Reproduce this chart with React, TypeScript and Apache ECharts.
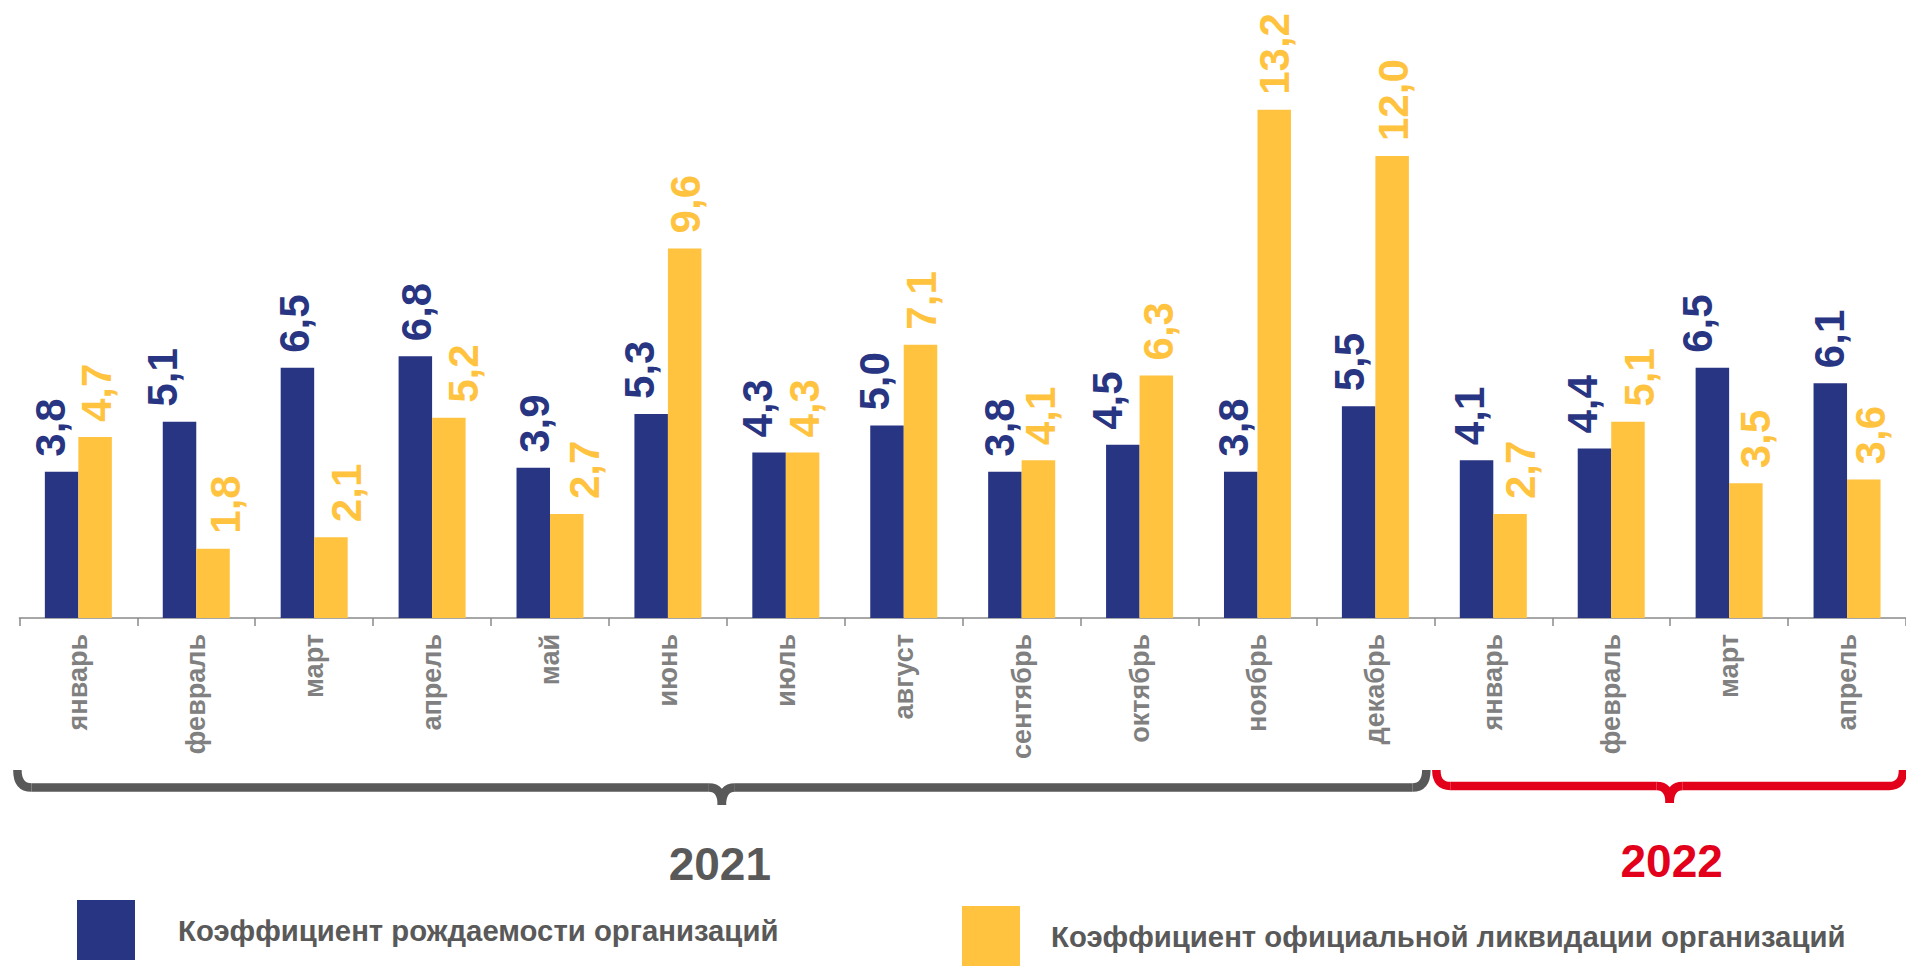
import React, { useEffect, useRef } from 'react';
import * as echarts from 'echarts';

const categories = [
  'январь', 'февраль', 'март', 'апрель', 'май', 'июнь', 'июль', 'август',
  'сентябрь', 'октябрь', 'ноябрь', 'декабрь', 'январь', 'февраль', 'март', 'апрель',
];
const birthRate = [3.8, 5.1, 6.5, 6.8, 3.9, 5.3, 4.3, 5.0, 3.8, 4.5, 3.8, 5.5, 4.1, 4.4, 6.5, 6.1];
const liquidationRate = [4.7, 1.8, 2.1, 5.2, 2.7, 9.6, 4.3, 7.1, 4.1, 6.3, 13.2, 12.0, 2.7, 5.1, 3.5, 3.6];
const years = ['2021', '2022'];
const monthsPerYear = [12, 4];
const seriesNames = [
  'Коэффициент рождаемости организаций',
  'Коэффициент официальной ликвидации организаций',
];

// label horizontal nudges (style only)
const birthLabelShift = [-11, -17, -3, 1, 1, -12, -12, -12, -5, -15, -7, -9, -7, -12, -15, -1];
const liqLabelShift = [1, 12, 16, 15, 18, 1, 2, 1, 2, 2, 0, 1, 10, 12, 10, 7];

const FONT = 'Arial, "Liberation Sans", sans-serif';
const BLUE = '#283582';
const YELLOW = '#FFC340';
const GRAY = '#595959';
const RED = '#E2001A';

const fmt = (v: number) => v.toFixed(1).replace('.', ',');

function barData(values: number[], shifts: number[]) {
  return values.map((v, i) => ({ value: v, label: { offset: [0, shifts[i]] } }));
}

function labelStyle(color: string) {
  return {
    show: true,
    position: 'top',
    rotate: 90,
    align: 'left',
    verticalAlign: 'middle',
    distance: 15,
    color,
    fontSize: 42,
    fontWeight: 'bold',
    fontFamily: FONT,
    formatter: (p: any) => fmt(p.value),
  };
}

function brace(x1: number, x2: number, color: string, yTop: number, yMid: number, yBot: number) {
  const r = 14;
  const r2 = 13;
  const xc = (x1 + x2) / 2;
  const style = { stroke: color, lineWidth: 8.5, fill: null, lineCap: 'butt' };
  return [
    { type: 'bezierCurve', silent: true, shape: { x1: x1, y1: yTop, cpx1: x1, cpy1: yMid, x2: x1 + r, y2: yMid }, style },
    { type: 'line', silent: true, shape: { x1: x1 + r, y1: yMid, x2: xc - r2, y2: yMid }, style },
    { type: 'bezierCurve', silent: true, shape: { x1: xc - r2, y1: yMid, cpx1: xc, cpy1: yMid, x2: xc, y2: yBot }, style },
    { type: 'bezierCurve', silent: true, shape: { x1: xc + r2, y1: yMid, cpx1: xc, cpy1: yMid, x2: xc, y2: yBot }, style },
    { type: 'line', silent: true, shape: { x1: xc + r2, y1: yMid, x2: x2 - r, y2: yMid }, style },
    { type: 'bezierCurve', silent: true, shape: { x1: x2 - r, y1: yMid, cpx1: x2, cpy1: yMid, x2: x2, y2: yTop }, style },
  ];
}

export default function App() {
  const ref = useRef<HTMLDivElement>(null);

  useEffect(() => {
    if (!ref.current) return;
    const chart = echarts.init(ref.current, undefined, { renderer: 'svg' });
    chart.setOption({
      animation: false,
      backgroundColor: '#ffffff',
      grid: { left: 19.4, top: 2, width: 1893.6, height: 616, containLabel: false },
      legend: [
        {
          data: [seriesNames[0]],
          left: 77,
          top: 900,
          padding: 0,
          icon: 'rect',
          itemWidth: 58,
          itemHeight: 60,
          selectedMode: false,
          textStyle: { fontSize: 29.3, fontWeight: 'bold', color: GRAY, fontFamily: FONT, padding: [18, 0, 0, 38] },
        },
        {
          data: [seriesNames[1]],
          left: 962,
          top: 906,
          padding: 0,
          icon: 'rect',
          itemWidth: 58,
          itemHeight: 60,
          selectedMode: false,
          textStyle: { fontSize: 29.3, fontWeight: 'bold', color: GRAY, fontFamily: FONT, padding: [0, 0, 0, 26] },
        },
      ],
      xAxis: {
        type: 'category',
        data: categories,
        axisLine: { lineStyle: { color: '#8a8a8a', width: 1.5 } },
        axisTick: { show: true, length: 8, interval: 0, lineStyle: { color: '#8a8a8a', width: 1.5 } },
        axisLabel: {
          interval: 0,
          rotate: 90,
          margin: 16,
          fontSize: 27,
          fontWeight: 'bold',
          color: '#808080',
          fontFamily: FONT,
        },
      },
      yAxis: { type: 'value', min: 0, max: 16, show: false, splitLine: { show: false } },
      series: [
        {
          name: seriesNames[0],
          type: 'bar',
          data: barData(birthRate, birthLabelShift),
          barWidth: 33.5,
          barGap: '0%',
          itemStyle: { color: BLUE },
          label: labelStyle(BLUE),
        },
        {
          name: seriesNames[1],
          type: 'bar',
          data: barData(liquidationRate, liqLabelShift),
          barWidth: 33.5,
          barGap: '0%',
          itemStyle: { color: YELLOW },
          label: labelStyle(YELLOW),
        },
      ],
    });

    const c0 = chart.convertToPixel({ xAxisIndex: 0 }, 0) as number;
    const c1 = chart.convertToPixel({ xAxisIndex: 0 }, 1) as number;
    const step = c1 - c0;
    const boundary = (i: number) => c0 - step / 2 + i * step;

    const b0 = boundary(0);
    const b1 = boundary(monthsPerYear[0]);
    const b2 = boundary(monthsPerYear[0] + monthsPerYear[1]);
    const gx1 = b0 - 2;
    const gx2 = b1 - 8;
    const rx1 = b1 + 2;
    const rx2 = b2 - 3;

    const elements: any[] = [
      ...brace(gx1, gx2, GRAY, 770, 787.5, 805),
      ...brace(rx1, rx2, RED, 770, 786, 803),
      {
        type: 'text',
        silent: true,
        x: (gx1 + gx2) / 2 - 2,
        y: 864,
        style: { text: years[0], fill: GRAY, font: `bold 46px ${FONT}`, align: 'center', verticalAlign: 'middle' },
      },
      {
        type: 'text',
        silent: true,
        x: (rx1 + rx2) / 2 + 2,
        y: 861,
        style: { text: years[1], fill: RED, font: `bold 46px ${FONT}`, align: 'center', verticalAlign: 'middle' },
      },
    ];
    chart.setOption({ graphic: { elements } });

    return () => chart.dispose();
  }, []);

  return (
    <div
      ref={ref}
      style={{ position: 'absolute', left: 0, top: 0, width: 1906, height: 966, background: '#fff' }}
    />
  );
}
